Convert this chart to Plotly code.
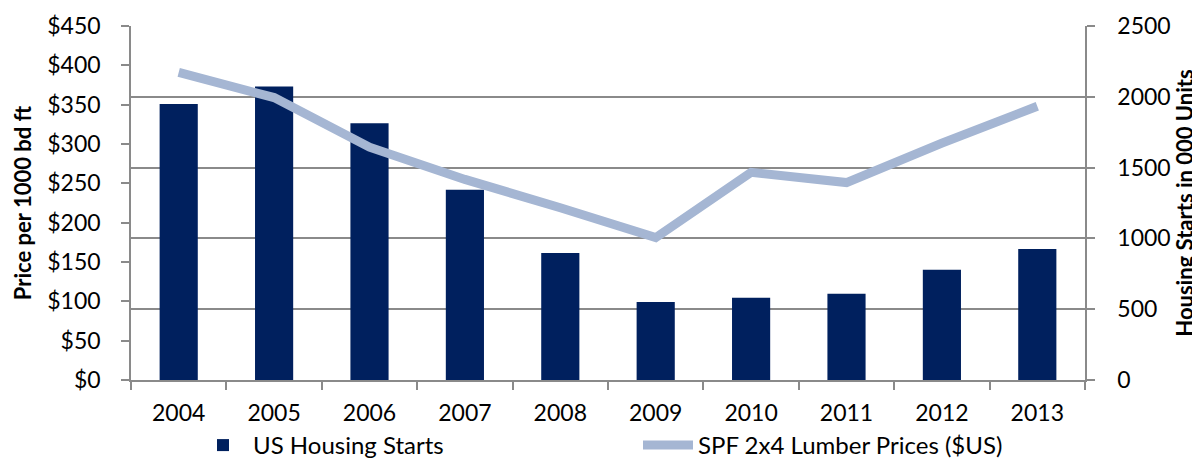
import plotly.graph_objects as go

years = ["2004", "2005", "2006", "2007", "2008", "2009", "2010", "2011", "2012", "2013"]
housing_starts = [1950, 2073, 1813, 1343, 897, 550, 581, 609, 779, 926]
lumber_prices = [391, 359, 296, 255, 219, 181, 264, 251, 301, 348]

FONT = "Lato"
GRID = "#8a8a8a"

fig = go.Figure()
fig.add_trace(go.Bar(
    x=years, y=housing_starts, name="US Housing Starts",
    marker=dict(color="#00205E", line=dict(width=0)),
    width=0.4, yaxis="y", legend="legend",
))
fig.add_trace(go.Scatter(
    x=years, y=lumber_prices, name="SPF 2x4 Lumber Prices ($US)",
    mode="lines", line=dict(color="#A5B6D3", width=9),
    yaxis="y2", legend="legend2",
))

fig.update_layout(
    width=1200, height=462,
    margin=dict(l=123, r=123, t=18, b=90, autoexpand=False),
    paper_bgcolor="white", plot_bgcolor="white",
    font=dict(family=FONT, size=23, color="#000000"),
    xaxis=dict(
        type="category", showline=True, linecolor=GRID, linewidth=1.5,
        ticks="outside", tickson="boundaries", ticklen=8, tickcolor=GRID, tickwidth=1.5,
        ticklabelstandoff=12, showgrid=False, automargin=False,
    ),
    yaxis=dict(
        side="right", range=[0, 2500], dtick=500,
        showgrid=True, gridcolor=GRID, gridwidth=1.5,
        showline=True, linecolor=GRID, linewidth=1.5,
        ticks="outside", ticklen=8, tickcolor=GRID, tickwidth=1.5,
        ticklabelstandoff=18, zeroline=False, automargin=False,
        title=dict(text="<b>Housing Starts in 000 Units</b>", font=dict(size=22), standoff=6),
    ),
    yaxis2=dict(
        overlaying="y", side="left", range=[0, 450], dtick=50, tickprefix="$",
        showgrid=False, showline=True, linecolor=GRID, linewidth=1.5,
        ticks="outside", ticklen=8, tickcolor=GRID, tickwidth=1.5,
        ticklabelstandoff=16, zeroline=False, automargin=False,
        title=dict(text="<b>Price per 1000 bd ft</b>", font=dict(size=22), standoff=10),
    ),
    legend=dict(
        orientation="h", x=(185 - 123) / 954, xanchor="left", y=-0.185, yanchor="middle",
        itemwidth=50, font=dict(size=24), bgcolor="rgba(0,0,0,0)",
    ),
    legend2=dict(
        orientation="h", x=(630 - 123) / 954, xanchor="left", y=-0.185, yanchor="middle",
        itemwidth=50, font=dict(size=24), bgcolor="rgba(0,0,0,0)",
    ),
    showlegend=True,
)

fig.write_html("out.html")
